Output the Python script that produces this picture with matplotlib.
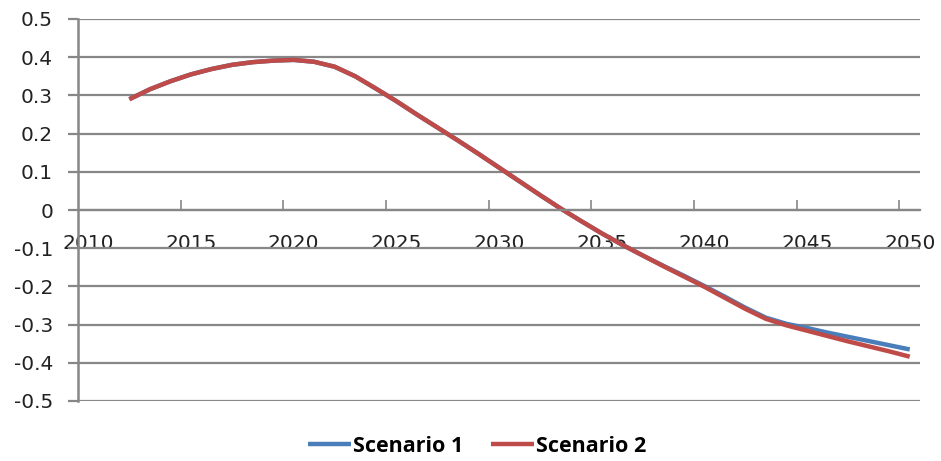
import matplotlib
matplotlib.use("Agg")
import matplotlib.pyplot as plt
from matplotlib.ticker import FixedLocator, FixedFormatter

# categories: one per year, 2010..2050 (Excel-style category axis)
years = list(range(2010, 2051))
data_years = list(range(2012, 2051))

scenario1 = [0.29, 0.316, 0.337, 0.355, 0.369, 0.380, 0.387, 0.391, 0.393, 0.388,
             0.375, 0.350, 0.318, 0.285, 0.250, 0.216, 0.182, 0.147, 0.111, 0.075,
             0.039, 0.004, -0.029, -0.061, -0.091, -0.119, -0.146, -0.172, -0.199,
             -0.227, -0.256, -0.282, -0.298, -0.309, -0.321, -0.332, -0.343, -0.354,
             -0.365]
scenario2 = [0.29, 0.316, 0.337, 0.355, 0.369, 0.380, 0.387, 0.391, 0.393, 0.388,
             0.375, 0.350, 0.318, 0.285, 0.250, 0.216, 0.182, 0.147, 0.111, 0.075,
             0.039, 0.004, -0.029, -0.061, -0.091, -0.119, -0.147, -0.174, -0.201,
             -0.230, -0.259, -0.285, -0.302, -0.316, -0.330, -0.344, -0.357, -0.370,
             -0.384]

year_labels = ["2010", "2015", "2020", "2025", "2030", "2035", "2040", "2045", "2050"]
y_ticks = [-0.5, -0.4, -0.3, -0.2, -0.1, 0, 0.1, 0.2, 0.3, 0.4, 0.5]
y_labels = ["-0.5", "-0.4", "-0.3", "-0.2", "-0.1", "0", "0.1", "0.2", "0.3", "0.4", "0.5"]

grey = "#878787"
blue = "#4A7EBB"
red = "#BE4B48"

fig = plt.figure(figsize=(9.41, 4.61), dpi=100)
ax = fig.add_axes([78/941, 1-401/461, (920-78)/941, (401-19)/461])

# category index of each data point
xpos = [years.index(y) for y in data_years]
l1, = ax.plot(xpos, scenario1, color=blue, lw=3.2, label="Scenario 1", solid_capstyle="butt")
l2, = ax.plot(xpos, scenario2, color=red, lw=3.2, label="Scenario 2", solid_capstyle="butt")

ax.set_xlim(-0.5, len(years) - 0.5)
ax.set_ylim(-0.5, 0.5)

# gridlines
ax.set_yticks(y_ticks)
ax.set_yticklabels(y_labels)
ax.yaxis.grid(True, color=grey, lw=1.6)
ax.set_axisbelow(True)
ax.tick_params(axis="y", direction="out", length=7, width=1.6, color=grey,
               labelsize=14.5, pad=11, labelcolor="#222222")

# x axis sits at y=0; labels at category centres, tick marks between categories
ax.spines["bottom"].set_position(("data", 0))
ax.spines["bottom"].set_color(grey)
ax.spines["bottom"].set_linewidth(1.6)
ax.spines["left"].set_color(grey)
ax.spines["left"].set_linewidth(1.8)
ax.spines["top"].set_visible(False)
ax.spines["right"].set_visible(False)

label_pos = [years.index(int(s)) for s in year_labels]
ax.xaxis.set_major_locator(FixedLocator(label_pos))
ax.xaxis.set_major_formatter(FixedFormatter(year_labels))
ax.xaxis.set_minor_locator(FixedLocator([p - 0.5 for p in label_pos[1:]]))
ax.tick_params(axis="x", which="major", length=0, pad=17, labelsize=14.5,
               labelcolor="#222222")
ax.tick_params(axis="x", which="minor", direction="in", length=7, width=1.2,
               color=grey)

fig.legend(handles=[l1, l2], loc="center", bbox_to_anchor=(477/941, 1-446/461),
           ncol=2, frameon=False, handlelength=2.0, handletextpad=0.1,
           columnspacing=1.3, prop={"family": "Open Sans", "weight": "bold", "size": 15.5})

fig.savefig("out.png", dpi=100)
